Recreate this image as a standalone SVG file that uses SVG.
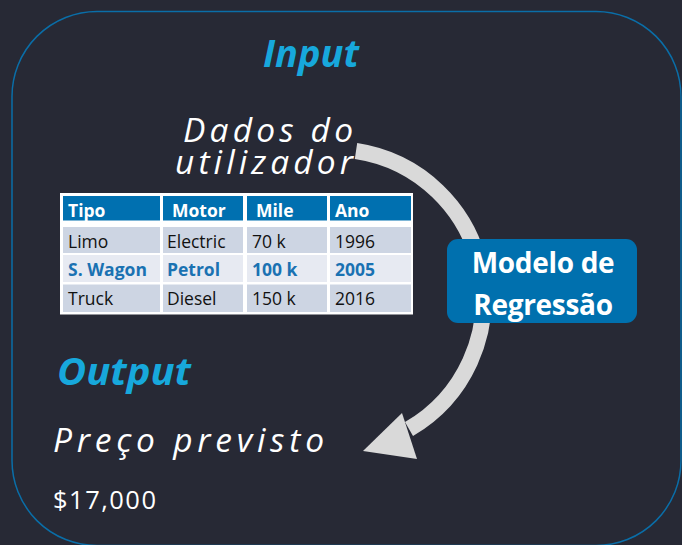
<svg xmlns="http://www.w3.org/2000/svg" width="682" height="545" viewBox="0 0 682 545">
  <style>
    .title { font-family: "Open Sans", "Liberation Sans", sans-serif; font-weight: 700; font-style: italic; fill: #17a8dc; font-size: 38px; }
    .lbl { font-family: "Open Sans", "Liberation Sans", sans-serif; font-style: italic; font-weight: 400; fill: #ffffff; font-size: 33.5px; }
    .val { font-family: "Open Sans", "Liberation Sans", sans-serif; fill: #ffffff; font-size: 25.5px; }
    .th { font-family: "Open Sans", "Liberation Sans", sans-serif; font-weight: 700; fill: #ffffff; font-size: 17.5px; }
    .td { font-family: "Open Sans", "Liberation Sans", sans-serif; fill: #111111; font-size: 17.5px; }
    .tdh { font-family: "Open Sans", "Liberation Sans", sans-serif; font-weight: 700; fill: #1a72b2; font-size: 17.5px; }
    .hdr { fill: #0070b0; }
    .rowa { fill: #cdd5e3; }
    .rowb { fill: #e7eaf2; }
    .model { font-family: "Open Sans", "Liberation Sans", sans-serif; font-weight: 700; fill: #ffffff; font-size: 28px; letter-spacing: -0.3px; }
  </style>
  <rect x="0" y="0" width="682" height="545" fill="#272935"/>
  <rect id="frame" x="12" y="11.5" width="669" height="534" rx="85" ry="85" fill="none" stroke="#0a6ea8" stroke-width="1.5"/>

  <g id="connectors">
    <path d="M 356 151 A 150 150 0 0 1 409 429" fill="none" stroke="#d9d9d9" stroke-width="16"/>
    <polygon points="402,413 363,451 417,459" fill="#d9d9d9"/>
  </g>

  <g id="input">
    <text class="title" x="263" y="67" textLength="96" lengthAdjust="spacingAndGlyphs">Input</text>
    <text class="lbl"><tspan x="183" y="142" textLength="170">Dados do</tspan><tspan x="175" y="174" textLength="178">utilizador</tspan></text>
  </g>

  <g id="table">
    <rect x="60" y="193" width="353" height="121.5" fill="#ffffff"/>
    <rect class="hdr" x="63" y="196" width="97" height="24.5"/>
    <rect class="hdr" x="163" y="196" width="80" height="24.5"/>
    <rect class="hdr" x="247" y="196" width="80" height="24.5"/>
    <rect class="hdr" x="330" y="196" width="81" height="24.5"/>
    <rect class="rowa" x="63" y="227" width="97" height="26"/>
    <rect class="rowa" x="163" y="227" width="80" height="26"/>
    <rect class="rowa" x="247" y="227" width="80" height="26"/>
    <rect class="rowa" x="330" y="227" width="81" height="26"/>
    <rect class="rowb" x="63" y="255" width="97" height="27"/>
    <rect class="rowb" x="163" y="255" width="80" height="27"/>
    <rect class="rowb" x="247" y="255" width="80" height="27"/>
    <rect class="rowb" x="330" y="255" width="81" height="27"/>
    <rect class="rowa" x="63" y="284.5" width="97" height="27.5"/>
    <rect class="rowa" x="163" y="284.5" width="80" height="27.5"/>
    <rect class="rowa" x="247" y="284.5" width="80" height="27.5"/>
    <rect class="rowa" x="330" y="284.5" width="81" height="27.5"/>
    <text class="th" x="68" y="217">Tipo</text>
    <text class="th" x="172" y="217">Motor</text>
    <text class="th" x="256" y="217">Mile</text>
    <text class="th" x="335" y="217">Ano</text>
    <text class="td" x="68" y="248">Limo</text>
    <text class="td" x="167" y="248">Electric</text>
    <text class="td" x="252" y="248">70 k</text>
    <text class="td" x="335" y="248">1996</text>
    <text class="tdh" x="68" y="276">S. Wagon</text>
    <text class="tdh" x="167" y="276">Petrol</text>
    <text class="tdh" x="252" y="276">100 k</text>
    <text class="tdh" x="335" y="276">2005</text>
    <text class="td" x="68" y="305">Truck</text>
    <text class="td" x="167" y="305">Diesel</text>
    <text class="td" x="252" y="305">150 k</text>
    <text class="td" x="335" y="305">2016</text>
  </g>

  <g id="model">
    <rect x="447" y="239" width="190" height="84" rx="11" ry="11" fill="#0070ae"/>
    <text class="model" text-anchor="middle"><tspan x="543" y="273">Modelo de</tspan><tspan x="543" y="315">Regressão</tspan></text>
  </g>

  <g id="output">
    <text class="title" x="57" y="385" textLength="134" lengthAdjust="spacingAndGlyphs">Output</text>
    <text class="lbl" x="53" y="452" textLength="271">Preço previsto</text>
    <text class="val" x="53" y="509" textLength="103">$17,000</text>
  </g>
</svg>
